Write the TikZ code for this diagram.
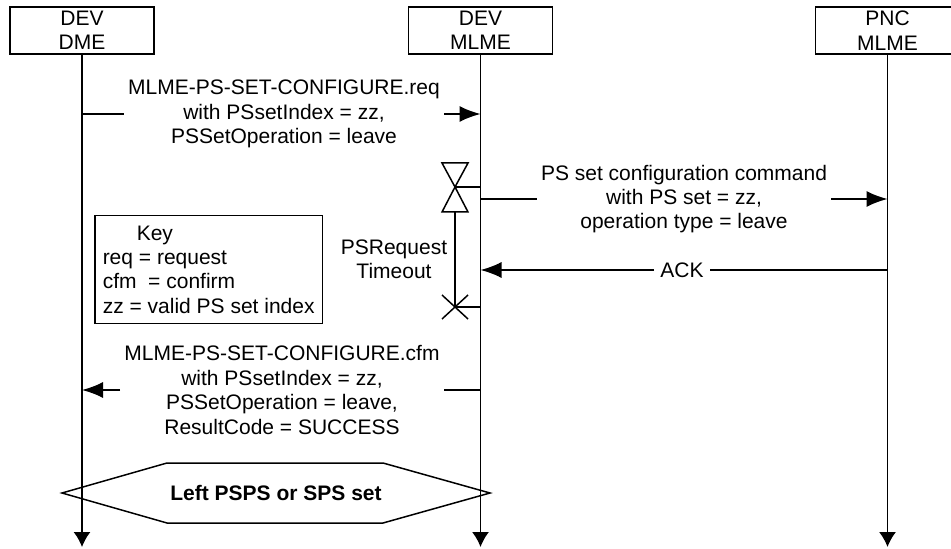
\documentclass[tikz,border=0pt]{standalone}
\usepackage{fontspec}
\setmainfont{Liberation Sans}
\usetikzlibrary{arrows.meta}

\begin{document}
\begin{tikzpicture}[x=0.5pt,y=-0.5pt]
        % Define styles
        \tikzset{
            every node/.style={font=\fontsize{10.5}{12.2}\selectfont},
            entity/.style={draw, line width=0.75pt, minimum width=72pt, minimum height=23.5pt, align=center, inner sep=0pt},
            lifeline/.style={line width=0.75pt, -{Latex[length=7.5pt,width=8.5pt]}},
            msg/.style={line width=0.75pt, -{Latex[length=10.5pt,width=8pt]}},
            plain/.style={line width=0.75pt},
            label/.style={align=center, inner xsep=2pt, inner ysep=0pt}
        }
        \useasboundingbox (0,0) rectangle (951,549);
        % Entities and their lifelines
        \node[entity] (dme) at (82,30.5) {DEV\\DME};
        \node[entity] (mlme) at (480.5,30.5) {DEV\\MLME};
        \node[entity] (pnc) at (887.5,30.5) {PNC\\MLME};
        \coordinate (bottom) at (0,547);
        \draw[lifeline] (dme.south) -- (dme |- bottom);
        \draw[lifeline] (mlme.south) -- (mlme |- bottom);
        \draw[lifeline] (pnc.south) -- (pnc |- bottom);
        % Request from DME to MLME
        \node[label] (req) at (284,114) {MLME-PS-SET-CONFIGURE.req\\with PSsetIndex = zz,\\PSSetOperation = leave};
        \draw[plain] (dme |- req) -- (req.west);
        \draw[msg] (req.east) -- (mlme |- req);
        % Command to the PNC
        \node[label] (cmd) at (684,199) {PS set configuration command\\with PS set = zz,\\operation type = leave};
        \draw[plain] (mlme |- cmd) -- (cmd.west);
        \draw[msg] (cmd.east) -- (pnc |- cmd);
        % ACK back from the PNC
        \node[label, inner xsep=3pt] (ack) at (682,270) {ACK};
        \draw[plain] (pnc |- ack) -- (ack.east);
        \draw[msg] (ack.west) -- (mlme |- ack);
        % Timer: hourglass, then cross when it runs out
        \coordinate (timerstart) at (455,187);
        \coordinate (timerend) at (455,307);
        \draw[plain] (timerstart) -- ++(-13,-24) -- ++(26,0) -- cycle;
        \draw[plain] (timerstart) -- ++(-13,25) -- ++(26,0) -- cycle;
        \draw[plain] (timerstart) -- (mlme |- timerstart);
        \draw[plain] (timerstart) ++(0,25) -- (timerend);
        \draw[plain] (timerend) ++(-13,-12) -- ++(26,24);
        \draw[plain] (timerend) ++(-13,12) -- ++(26,-24);
        \draw[plain] (timerend) -- (mlme |- timerend);
        \node[label] (timeout) at (394,259) {PSRequest\\Timeout};
        % Key
        \node[draw, plain, align=left, inner xsep=4pt, inner ysep=5pt, anchor=north west] (key) at (94,215)
            {\hspace{17pt}Key\\req = request\\cfm\ \ = confirm\\zz = valid PS set index};
        % Confirm from MLME to DME
        \node[label] (cfm) at (282,390) {MLME-PS-SET-CONFIGURE.cfm\\with PSsetIndex = zz,\\PSSetOperation = leave,\\ResultCode = SUCCESS};
        \draw[plain] (mlme |- cfm) -- (cfm.east);
        \draw[msg] (cfm.west) -- (dme |- cfm);
        % Resulting state
        \node[font=\fontsize{10.5}{12.2}\selectfont\bfseries] (state) at (276,493) {Left PSPS or SPS set};
        \draw[plain] (62,493) -- (167,463) -- (383,463) -- (490,493) -- (383,523) -- (167,523) -- cycle;
\end{tikzpicture}
\end{document}
